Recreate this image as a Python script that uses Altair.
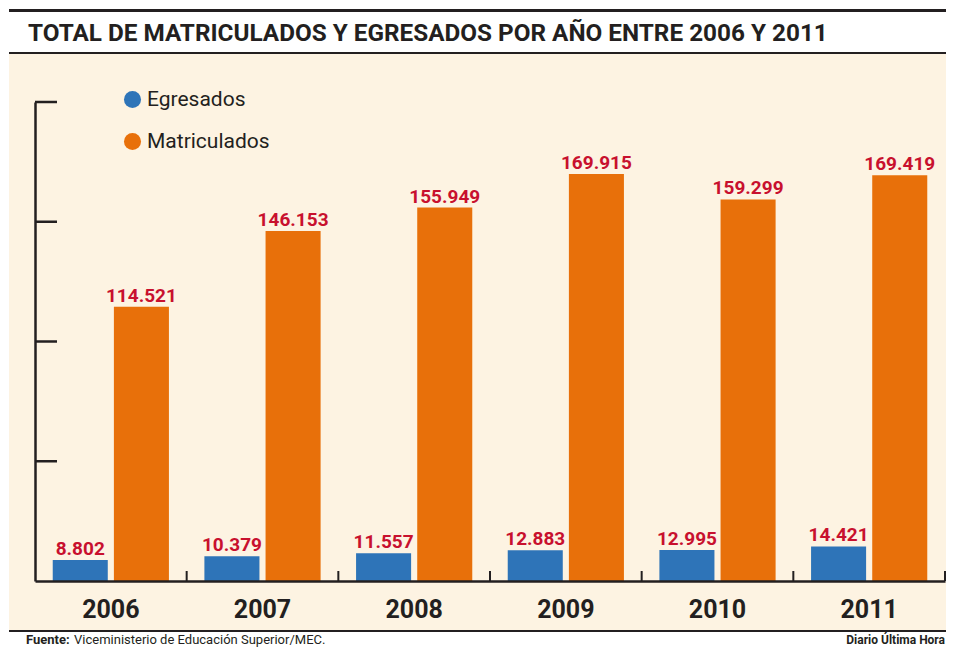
import altair as alt
import pandas as pd

YEARS = ["2006", "2007", "2008", "2009", "2010", "2011"]
EGRESADOS = [8802, 10379, 11557, 12883, 12995, 14421]
MATRICULADOS = [114521, 146153, 155949, 169915, 159299, 169419]
SERIES = ["Egresados", "Matriculados"]
Y_TICKS = [50000, 100000, 150000, 200000]

TITLE = "TOTAL DE MATRICULADOS Y EGRESADOS POR AÑO ENTRE 2006 Y 2011"
SOURCE_LABEL = "Fuente:"
SOURCE_TEXT = "Viceministerio de Educación Superior/MEC."
CREDIT = "Diario Última Hora"

W, H = 910, 479
FONT = "Roboto, Liberation Sans, sans-serif"
BLUE = "#2e74b8"
ORANGE = "#e8700a"
RED = "#c8102e"
CREAM = "#fdf3e2"
INK = "#231f20"

df = pd.DataFrame({
    "año": YEARS * 2,
    "serie": [SERIES[0]] * len(YEARS) + [SERIES[1]] * len(YEARS),
    "valor": EGRESADOS + MATRICULADOS,
})
one = pd.DataFrame({"k": [0]})

x_enc = alt.X("año:N", sort=YEARS,
              scale=alt.Scale(paddingInner=0, paddingOuter=0),
              axis=alt.Axis(title=None, labelAngle=0, ticks=False, domainColor=INK,
                            domainWidth=2.5, labelFont=FONT, labelFontSize=25,
                            labelFontWeight="bold", labelColor=INK, labelPadding=16,
                            zindex=1))
xo_enc = alt.XOffset("serie:N", sort=SERIES,
                     scale=alt.Scale(paddingInner=0.1, paddingOuter=0.29))
y_scale = alt.Scale(domain=[0, 200000], nice=False, zero=True)
y_enc = alt.Y("valor:Q", scale=y_scale,
              axis=alt.Axis(title=None, labels=False, ticks=False, grid=False,
                            domainColor=INK, domainWidth=2.5, zindex=1))
color_enc = alt.Color("serie:N",
                      scale=alt.Scale(domain=SERIES, range=[BLUE, ORANGE]),
                      legend=alt.Legend(title=None, orient="none", legendX=87, legendY=-13,
                                        symbolType="circle", symbolSize=290,
                                        symbolStrokeWidth=0, symbolOpacity=1,
                                        labelFont=FONT, labelFontSize=21, labelColor=INK,
                                        rowPadding=20, labelOffset=4, padding=0))

bg = alt.Chart(one).mark_rect(color=CREAM).encode(
    x=alt.value(-26), x2=alt.value(911), y=alt.value(-48), y2=alt.value(528))
line_top = alt.Chart(one).mark_rect(color=INK).encode(
    x=alt.value(-26), x2=alt.value(911), y=alt.value(-93), y2=alt.value(-90))
line_mid = alt.Chart(one).mark_rect(color=INK).encode(
    x=alt.value(-26), x2=alt.value(911), y=alt.value(-50), y2=alt.value(-48))
line_bot = alt.Chart(one).mark_rect(color=INK).encode(
    x=alt.value(-26), x2=alt.value(911), y=alt.value(528), y2=alt.value(530))

title = alt.Chart(one).mark_text(font=FONT, fontSize=24.3, fontWeight="bold", color=INK,
                                 align="left", baseline="alphabetic").encode(
    x=alt.value(-7), y=alt.value(-61), text=alt.value(TITLE))
src1 = alt.Chart(one).mark_text(font=FONT, fontSize=13, fontWeight="bold", color=INK,
                                align="left", baseline="alphabetic").encode(
    x=alt.value(-9), y=alt.value(542), text=alt.value(SOURCE_LABEL))
src2 = alt.Chart(one).mark_text(font=FONT, fontSize=13, color=INK,
                                align="left", baseline="alphabetic").encode(
    x=alt.value(39), y=alt.value(542), text=alt.value(SOURCE_TEXT))
credit = alt.Chart(one).mark_text(font=FONT, fontSize=12, fontWeight="bold", color=INK,
                                  align="right", baseline="alphabetic").encode(
    x=alt.value(910), y=alt.value(542), text=alt.value(CREDIT))

bars = alt.Chart(df).mark_bar().encode(x=x_enc, xOffset=xo_enc, y=y_enc, color=color_enc)
labels = alt.Chart(df).transform_calculate(
    lbl="replace(format(datum.valor, ','), ',', '.')"
).mark_text(font=FONT, fontSize=19, fontWeight="bold", color=RED,
            baseline="alphabetic", dy=-5).encode(
    x=x_enc, xOffset=xo_enc, y=y_enc, text="lbl:N")

yticks = alt.Chart(pd.DataFrame({"valor": Y_TICKS})).mark_rule(
    color=INK, strokeWidth=2.5).encode(
    y=alt.Y("valor:Q", scale=y_scale), x=alt.value(0), x2=alt.value(22))
xticks = alt.Chart(pd.DataFrame({"año": YEARS})).mark_rule(
    color=INK, strokeWidth=2).encode(
    x=alt.X("año:N", sort=YEARS, bandPosition=1), y=alt.value(H), y2=alt.value(H - 10))

chart = alt.layer(
    bg, line_top, line_mid, line_bot, title, src1, src2, credit,
    bars, labels, yticks, xticks
).properties(
    width=W, height=H, autosize="none",
    padding={"left": 27, "top": 94, "right": 1, "bottom": 68},
    background="white",
).configure_view(stroke=None)

chart.save("out.html", embed_options={"renderer": "svg", "actions": False})
